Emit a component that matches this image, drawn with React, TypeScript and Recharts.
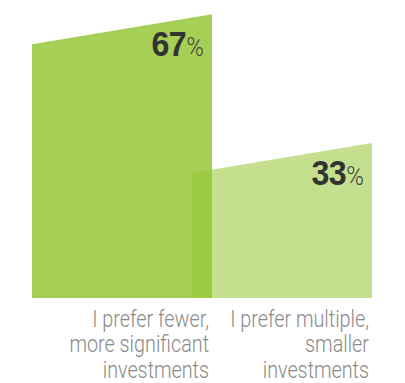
import { BarChart, Bar, XAxis, YAxis, Cell, LabelList } from 'recharts';

const categories = [
  ['I prefer fewer,', 'more significant', 'investments'],
  ['I prefer multiple,', 'smaller', 'investments'],
];
const shares = [67, 33];
const fills = ['#a6cf55', 'rgb(150,198,54)'];
const opacities = [1, 0.56];

const data = shares.map((value, i) => ({ name: String(i), value }));

const BAR_W = 180;
const SLANT = 30;
const SQUEEZE = 0.86;
const LIGHT = 'Roboto, "Liberation Sans", Arial, sans-serif';

function SlantBar(props: any) {
  const { x, y, width, height, fill, fillOpacity } = props;
  const cx = x + width / 2;
  const l = cx - BAR_W / 2;
  const r = cx + BAR_W / 2;
  const b = y + height;
  return (
    <polygon
      points={`${l},${b} ${l},${y} ${r},${y - SLANT} ${r},${b}`}
      fill={fill}
      fillOpacity={fillOpacity}
    />
  );
}

function ValueLabel(props: any) {
  const { x, y, width, value } = props;
  const r = x + width / 2 + BAR_W / 2 - 8;
  return (
    <g transform={`translate(${r},${y - SLANT + 42}) scale(0.92,1)`}>
      <text x={0} y={0} textAnchor="end">
        <tspan fontFamily='"Liberation Sans", Arial, sans-serif' fontWeight="bold" fontSize={35} letterSpacing={-0.5} fill="#333">
          {value}
        </tspan>
        <tspan fontFamily={LIGHT} fontWeight={300} fontSize={26} fill="#444">%</tspan>
      </text>
    </g>
  );
}

function CategoryTick(props: any) {
  const { x, y, payload } = props;
  const lines = categories[Number(payload.value)];
  return (
    <g transform={`translate(${x + 87},${y}) scale(${SQUEEZE},1)`}>
      <text x={0} y={0} textAnchor="end" fontFamily={LIGHT} fontWeight={300} fontSize={23} fill="#8a8a8a">
        {lines.map((line, i) => (
          <tspan key={i} x={0} dy={i === 0 ? 29 : 25.5}>
            {line}
          </tspan>
        ))}
      </text>
    </g>
  );
}

export default function App() {
  return (
    <div style={{ width: 390, height: 375 }}>
      <BarChart
        width={390}
        height={375}
        data={data}
        margin={{ top: 6, right: 36, left: 34, bottom: 5 }}
      >
        <XAxis
          dataKey="name"
          height={80}
          axisLine={false}
          tickLine={false}
          tickSize={0}
          tickMargin={0}
          interval={0}
          tick={<CategoryTick />}
        />
        <YAxis hide domain={[0, 75]} />
        <Bar dataKey="value" shape={<SlantBar />} isAnimationActive={false}>
          {data.map((d, i) => (
            <Cell key={d.name} fill={fills[i]} fillOpacity={opacities[i]} />
          ))}
          <LabelList dataKey="value" content={<ValueLabel />} />
        </Bar>
      </BarChart>
    </div>
  );
}
